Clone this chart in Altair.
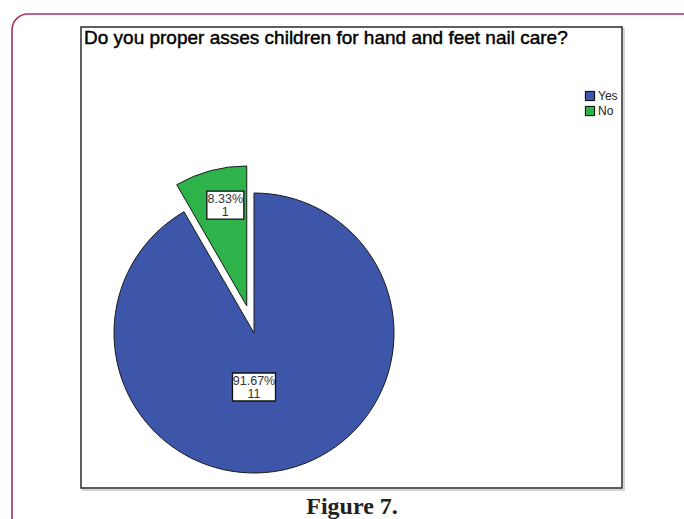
import altair as alt
import pandas as pd

# ---- data ----
categories = ["Yes", "No"]
counts = [11, 1]
percent_labels = ["91.67%", "8.33%"]
colors = ["#3E56A9", "#2DB34A"]

title_text = "Do you proper asses children for hand and feet nail care?"
caption_text = "Figure 7."

df = pd.DataFrame({
    "label": categories,
    "count": counts,
    "pct": percent_labels,
    "idx": list(range(len(categories))),
})

FONT = "Liberation Sans"

base = (
    alt.Chart(df)
    .transform_joinaggregate(total="sum(count)")
    .transform_window(cum="sum(count)", sort=[alt.SortField("idx")], frame=[None, 0])
    .transform_calculate(
        t0="(datum.cum - datum['count']) / datum.total * 2 * PI",
        t1="datum.cum / datum.total * 2 * PI",
    )
    .transform_calculate(
        mid="(datum.t0 + datum.t1) / 2",
        ex="datum.label == 'No' ? 28 : 0",
    )
    .transform_calculate(
        cx="254 + datum.ex * sin(datum.mid)",
        cy="333 - datum.ex * cos(datum.mid)",
        la="datum.label == 'Yes' ? PI : datum.t0 + 0.6 * (datum.t1 - datum.t0)",
        lr="datum.label == 'Yes' ? 54 : 103",
        bw="datum.label == 'Yes' ? 43 : 37",
    )
    .transform_calculate(
        lx="datum.cx + datum.lr * sin(datum.la)",
        ly="datum.cy - datum.lr * cos(datum.la)",
    )
    .transform_calculate(
        bx0="datum.lx - datum.bw / 2",
        bx1="datum.lx + datum.bw / 2",
        by0="datum.ly - 14",
        by1="datum.ly + 14",
        txt="datum.pct + '\\n' + datum['count']",
    )
)

pie = base.mark_arc(radius=140, stroke="#1a1a1a", strokeWidth=1).encode(
    theta=alt.Theta("t0:Q", scale=None),
    theta2="t1:Q",
    x=alt.X("cx:Q", scale=None),
    y=alt.Y("cy:Q", scale=None),
    color=alt.Color(
        "label:N",
        scale=alt.Scale(domain=categories, range=colors),
        sort=categories,
        legend=alt.Legend(
            title=None,
            orient="none",
            legendX=584,
            legendY=90,
            symbolType="square",
            symbolSize=85,
            symbolStrokeColor="#000000",
            symbolStrokeWidth=1,
            labelFontSize=12,
            labelFont=FONT,
            labelColor="#222222",
            rowPadding=1,
            labelOffset=2,
            padding=0,
            symbolOffset=0,
        ),
    ),
)

box_fill = base.mark_rect(fill="white", stroke=None).encode(
    x=alt.X("bx0:Q", scale=None),
    x2="bx1:Q",
    y=alt.Y("by0:Q", scale=None),
    y2="by1:Q",
)

box_edge = base.mark_rect(fill=None, stroke="#111111", strokeWidth=1.3).encode(
    x=alt.X("bx0:Q", scale=None),
    x2="bx1:Q",
    y=alt.Y("by0:Q", scale=None),
    y2="by1:Q",
)

labels = base.mark_text(
    font=FONT, fontSize=12.5, color="#333333", lineBreak="\n",
    lineHeight=13, baseline="middle", align="center", dy=-6
).encode(
    x=alt.X("lx:Q", scale=None),
    y=alt.Y("ly:Q", scale=None),
    text="txt:N",
)

one = alt.Data(values=[{"a": 1}])

frame = alt.Chart(one).mark_rect(
    fill=None, stroke="#A8325E", strokeWidth=1.6, cornerRadius=16
).encode(
    x=alt.value(12), x2=alt.value(700), y=alt.value(14), y2=alt.value(560)
)

shadow = alt.Chart(one).mark_rect(fill=None, stroke="#c8c8c8", strokeWidth=1.5).encode(
    x=alt.value(83), x2=alt.value(624), y=alt.value(29), y2=alt.value(490)
)
chart_box = alt.Chart(one).mark_rect(fill="white", stroke="#2a2a2a", strokeWidth=1.5).encode(
    x=alt.value(81), x2=alt.value(622), y=alt.value(27), y2=alt.value(488)
)

title = alt.Chart(one).mark_text(
    text=title_text, font=FONT, fontSize=19, color="#000000",
    stroke="#000000", strokeWidth=0.45,
    align="left", baseline="alphabetic"
).encode(x=alt.value(84), y=alt.value(44))

caption = alt.Chart(one).mark_text(
    text=caption_text, font="Liberation Serif", fontSize=24, fontWeight="bold",
    color="#231f20", align="center", baseline="alphabetic"
).encode(x=alt.value(352), y=alt.value(514))

chart = alt.layer(
    frame, shadow, chart_box, title, pie, box_fill, labels, box_edge, caption
).properties(
    width=684, height=519,
    autosize=alt.AutoSizeParams(type="none"),
    padding=0,
).configure_view(stroke=None)

chart.save("out.html", embed_options={"renderer": "svg", "actions": False})
